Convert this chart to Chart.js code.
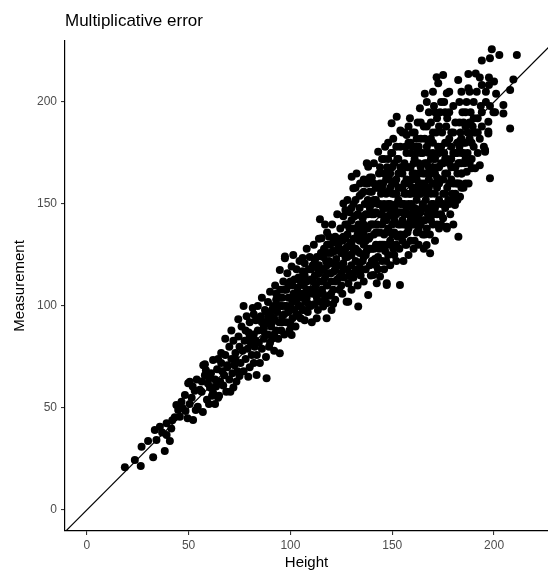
<!DOCTYPE html>
<html>
<head>
<meta charset="utf-8">
<script src="https://cdn.jsdelivr.net/npm/chart.js@4.4.1/dist/chart.umd.min.js"></script>
<style>
  html, body { margin: 0; padding: 0; background: #fff; }
  #wrap { width: 548px; height: 574px; }
</style>
</head>
<body>
<div id="wrap"><canvas id="chart" width="548" height="574"></canvas></div>
<script>
// Multiplicative error scatter: measurement vs true height, with the y = x line.
// Points are [height, measurement] pairs read off the reference picture.

const titleText = "Multiplicative error";
const xTitle = "Height";
const yTitle = "Measurement";

const xTickValues = [0, 50, 100, 150, 200];
const yTickValues = [0, 50, 100, 150, 200];
const xRange = [-10.7, 226.5];
const yRange = [-10.3, 229.9];

const tailPoints = [
  [18.7,20.9],[23.6,24.5],[26.5,21.6],[26.9,31],[30.1,33.8],[32.6,25.8],
  [33.4,39.2],[34.2,34.3],[35.9,40.8],[38.3,28.9],[39.2,42.5],[39.2,36.8],[40.8,33.8],
  [42,44],[43.2,45.5],[44,51.5],[44.9,49],[45.7,45.7],[41.5,40],[37,38],
  [48.2,56.4],[49.8,62.1],[50.6,62.9],[47,50],[49.5,45],[50.5,52],[52.2,44.1],[51.5,55],
  [53,58.5],[53.5,49],[54.5,50.6],[46.5,53],[48.5,48.5],[52,60.5],[54,64]
];

const lowerPoints = [
  [55.5,59],[56.4,58],[56.5,63],[57.2,71],[57,48],[58,66],[58,71.5],[59,54],[59.5,62],[60,52],
  [60.5,60],[61,67],[61.5,56],[62,73.5],[62,57.5],[63,64],[63.5,60.5],[64,69],[64.5,55],[64.5,74],
  [58.5,68.5],[60,64.5],[63,52],
  [65,56],[65.5,63],[66,72],[66,77],[67,61],[67.5,66],[68,76],[68.5,58],[69,70],[69,71],[70,64],
  [70,80],[70.5,58],[71,74],[71.5,67],[72,60],[72,83],[72.5,71],[73,77],[73.5,63],[74,68],
  [74.4,93.5],[74.5,85],[75,65.7],[75,80],[68,84],[66.5,68],[71,88],[73,74],
  [75.5,72],[76,90],[76.5,78],[77,68],[77.5,83],[78,74],[78.5,95],[79,79],[79.3,65.3],[79.5,87],
  [80,70],[80,92],[80.5,82],[81,76],[81.5,99],[82,86],[82,72],[82.5,80],[83,93],[83.4,66.2],
  [83.5,76],[84,88],[84,100],[84.5,82],[85,72],[77,100],[80,85],[82,96],[78,88],[83,83],
  [85.5,95],[86,79],[86,104],[86.5,88],[87,84],[87.5,98],[88,75],[88.3,64.6],[88.5,92],[89,102],
  [89,86],[89.5,80],[90,96],[90,107],[90.5,90],[91,84],[91.5,100],[92,78],[92,94],[92.5,110],
  [93,88],[93,103],[93.5,97],[94,84],[94.5,92],[94.8,76.8],[94.8,117.6],[95,100],[95,108],
  [86,92],[88,97],[91,92],[93,106],[90,82]
];

const middlePoints = [
  [95.5,88],[96,104],[96,95],[96.5,112],[97,86],[97.3,124.2],[97.3,123.4],[97.5,100],[98,92],[98,108],
  [98.5,116],[99,97],[99,104],[99.5,88],[100,112],[100,100],[100.6,119.3],[100.6,85.8],[101,94],[101.4,125],
  [101.5,106],[102,98],[102,113],[102.5,90],[103,103],[103,118],[103.5,109],[104,95],[104,100],[104.5,122],
  [105,94],[105,112],[106,123.5],[96,100],[97,108],[99,110],[101,102],[103,96],[100,91],[104,106],
  [105.5,104],[106,98],[106,117],[106.5,110],[107,93],[107,121],[107.5,102],[108,112],[108,128],[108.5,97],
  [109,107],[109,118],[109.5,124],[110,100],[110,113],[110.5,92],[111,106],[111,120],[111.5,130],[112,101],
  [112,115],[112.5,110],[112.9,94],[113,124],[113.5,98],[113.5,118],[114,106],[114,133],[114.5,142.5],[114.5,112],
  [115,102],[115,126],[106,106],[108,104],[110,108],[112,122],[114,120],[107,115],
  [115.3,133.2],[115.5,108],[116,118],[116.1,99.7],[116.5,128],[117,104],[117,114],[117.5,122],[117.8,94],[117.8,101.3],
  [118,110],[118,136],[118.5,126],[119,116],[119,105],[119.5,130],[120,112],[120,121],[120.2,98],[120.5,140],
  [121,108],[121,127],[121.5,117],[122,134],[122,103],[122.5,123],[123,113],[123,145],[123.5,130],[124,108],
  [124,120],[124.5,138],[125,116],[125,126],[116,124],[118,120],[120,116],[122,118],[124,128],[119,134],
  [121,101],[117,140]
];

const corePoints = [
  [125.5,132],[125.5,106],[126,121],[126,150.3],[126.5,114],[127,128],[127,140],[127.6,102.1],[128,118],[128,135],
  [128.4,102.1],[128.5,111],[129,125],[129,146],[129.5,131],[130,108],[130,120],[130.1,163.4],[130.5,138],[130.9,157.7],
  [131,114],[131,127],[131.5,144],[132,122],[132,152],[132.5,165],[132.5,133],[133,110],[133,118],[133.3,99.7],
  [133.5,140],[134,126],[134,148],[134.2,160],[134.5,115],[135,133],[135,155],[126,144],[128,152],[130,130],
  [132,128],[134,121],[126,126],[128,124],[130,142],[132,138],[134,138],[127,133],
  [135.5,122],[135.5,143],[136,112],[136,130],[136,162],[136.5,150],[137,118],[137,138],[137.5,127],[137.5,170],
  [138,145],[138.2,168.3],[138.2,105.4],[138.5,133],[139,120],[139,156],[139.5,140],[139.5,115],[140,128],[140,150],
  [140,163],[140.7,115.2],[141,135],[141,145],[141.5,123],[142,158],[142,130],[142.4,111.1],[142.5,140],[143,118],
  [143,150],[143.1,175.6],[143.5,128],[143.5,165],[144,114.4],[144,136],[144,145],[144.5,155],[145,122],[145,130],
  [145,172],[136,140],[138,152],[140,140],[142,146],[144,160],[137,132],[139,128],[141,152],[143,136],
  [145,140],[141,170],[139,163],
  [145.5,148],[145.5,160],[146,118],[146,135],[146.5,127],[146.5,178],[147,142],[147,155],[147.3,110.3],[147.3,111.1],
  [147.5,168],[148,125],[148,138],[148,150],[148.5,162],[149,120],[149,132],[149,145],[149.5,175],[149.7,189.6],
  [150,140],[150,155],[150,168],[150.5,128],[150.5,182],[151,148],[151,136],[151.5,160],[152,122],[152,145],
  [152.2,192.8],[152.5,172],[152.5,134],[153,152],[153,165],[153.5,128],[153.8,110.3],[154,140],[154,158],[154,178],
  [154.5,146],[155,132],[155,165],[155,185],[146,150],[148,144],[150,148],[152,155],[154,150],[147,162],
  [149,158],[151,170],[153,140],[155,150],[146,142],[150,135],[152,162],[148,172],
  [155.5,122],[155.5,140],[156,155],[156,170],[156.5,130],[156.5,178],[157,148],[157,162],[157.1,183.8],[157.5,136],
  [158,125],[158,145],[158,168],[158.5,155],[158.7,192],[159,132],[159,175],[159.5,150],[159.5,162],[160,140],
  [160,185],[160.5,128],[160.5,170],[161,155],[161,148],[161.5,178],[162,136],[162,162],[162.5,190],[162.5,145],
  [163,130],[163,170],[163.5,155],[163.6,196.9],[164,140],[164,182],[164.5,160],[164.5,148],[165,135],[165,175],
  [165,165],[156,160],[158,150],[160,158],[162,152],[164,168],[157,140],[159,168],[161,140],[163,160],
  [156,145],[158,180],[160,148],[162,175],[164,155],[157,155],[159,142],[161,165],[163,145],[165,150]
];

const upperPoints = [
  [165.5,128],[165.5,188],[166,204],[166,142],[166,160],[166.5,152],[166.9,129.9],[167,200],[167,170],[167.5,145],
  [168,180],[168,158],[168.6,125.8],[168.5,135],[169,165],[169,190],[169.5,150],[170,140],[170,175],[170,160],
  [170.5,198],[171,132],[171,155],[171.5,185],[171.8,212.1],[172,145],[172,168],[172.6,209.2],[172.5,178],[173,138],
  [173,160],[173.5,195],[174,150],[174,170],[174.5,185],[175,213.2],[175,143],[175,162],[166,170],[168,148],
  [170,150],[172,158],[174,162],[167,178],[169,142],[171,165],[173,175],[175,155],[166,182],[170,185],
  [172,192],[174,140],[168,168],[170,168],[172,150],
  [175.5,175],[175.5,200],[176,148],[176,165],[176.5,188],[176.8,138],[176.8,138.9],[176.8,204.3],[177,158],[177,180],
  [177.5,152],[178,170],[178,195],[178.5,145],[179,162],[179,185],[179.5,155],[180,175],[180,140],[180.5,168],
  [180.8,149.5],[181,190],[181.5,160],[182,180],[182,152],[182.4,210.8],[182.5,134],[182.5,170],[183,200],[183,160],
  [183.3,153.6],[183.5,185],[184,165],[184,175],[184.1,165],[184.5,195],[185,158],[176,172],[178,160],[180,160],
  [182,165],[184,182],[177,192],[179,172],[181,175],[183,170],[185,180],
  [185.5,170],[186,188],[186.6,165.8],[186.5,200],[187,175],[187.4,213.7],[187.4,206.7],[187.5,160],[188,182],[188.5,195],
  [189,167.5],[189,172],[189.5,188],[190,178],[190,200],[190.7,167.5],[191,214],[191,185],[191.5,205],[192,175],
  [192,192],[193,169],[193,212],[193,182],[193.5,198],[194,220.3],[194,208.3],[194,188],[195,178],[195.6,175.6],
  [195.6,176.5],[186,180],[188,190],[190,192],[192,185],[194,195],
  [196,200],[197.2,190.3],[197.2,185.5],[197.2,184.6],[197.5,212],[197.5,208.3],[198,221.4],[198,162.6],[198.9,225.8],[199.7,195],
  [200.5,195],[202.6,223],[204.6,198.5],[204.6,194.4],[207.9,205.9],[207.9,187],[209.5,211],[211.2,223],[196,205],[198,198],
  [200,210],[201,204]
];

// extra points where the cloud is solid black in the picture
const densePoints = [
  [87,90],[89,94],[91,98],[92,86],[94,100],[96,92],[98,100],[97,96],[95,104],[88,86],
  [101,110],[103,106],[105,100],[106,113],[108,108],[109,101],[110,118],[111,112],[113,104],[114,116],
  [102,104],[107,98],[112,108],[104,114],
  [116,112],[117,126],[118,116],[119,122],[120,106],[121,131],[122,112],[123,120],[124,133],[125,110],
  [116,106],[118,130],[120,126],[122,127],[124,114],
  [126,118],[127,147],[128,129],[129,138],[129,116],[130,125],[131,150],[131,133],[132,117],[133,145],
  [133,127],[134,132],[135,118],[135,144],[126,134],[128,140],[130,114],[132,158],[134,154],[127,124],
  [130,148],[133,135],
  [136,135],[136,156],[137,145],[137,125],[138,138],[138,160],[139,134],[139,148],[140,122],[140,156],
  [141,140],[141,128],[142,152],[142,136],[143,124],[143,158],[144,130],[144,150],[145,145],[145,158],
  [136,124],[138,128],[140,145],[142,120],[144,168],[137,160],[139,150],[141,160],
  [146,130],[146,165],[147,148],[147,136],[148,156],[148,130],[149,150],[149,165],[150,130],[150,160],
  [151,142],[151,155],[152,130],[152,150],[153,146],[153,158],[154,135],[154,168],[155,142],[155,158],
  [146,172],[148,180],[150,175],[152,178],[154,186],[147,122],[151,125],[153,172],
  [156,135],[156,150],[157,168],[157,130],[158,138],[158,160],[159,155],[159,180],[160,145],[160,165],
  [161,132],[161,172],[162,142],[162,158],[163,138],[163,165],[164,146],[164,175],[165,158],[165,142],
  [156,185],[158,188],[160,178],[162,182],[164,190],[157,175],[161,185],[163,178],
  [166,148],[166,165],[167,155],[167,138],[168,162],[168,175],[169,155],[169,172],[170,145],[170,180],
  [171,148],[171,172],[172,140],[172,163],[173,152],[173,168],[174,145],[174,178],[175,170],[175,150],
  [167,188],[169,182],[171,195],[173,188],[168,195],[170,205],[174,200],[166,135],
  [176,155],[176,180],[177,165],[177,172],[178,150],[178,182],[179,168],[179,178],[180,152],[180,185],
  [181,168],[181,155],[182,175],[182,160],[183,178],[183,190],[184,158],[184,170],[185,175],[185,190],
  [186,172],[187,185],[188,170],[189,180],[186,195],[188,205],[180,198],[178,205],[184,205],[176,195],
  [186,160],[190,185]
];

const allPoints = [].concat(tailPoints, lowerPoints, middlePoints, corePoints, upperPoints, densePoints)
  .map(([h, m]) => ({ x: h, y: m }));

// y = x reference line spanning the panel
const lineLo = Math.min(xRange[0], yRange[0]);
const lineHi = Math.max(xRange[1], yRange[1]);

const PLOT_LEFT = 65;
const PLOT_TOP = 41;
const PLOT_BOTTOM = 531;
const fontFamily = "'Liberation Sans', Arial, Helvetica, sans-serif";

const textPlugin = {
  id: "ggText",
  afterDraw(chart) {
    const ctx = chart.ctx;
    const area = chart.chartArea;
    ctx.save();
    ctx.fillStyle = "#000";
    ctx.font = "17px " + fontFamily;
    ctx.textAlign = "left";
    ctx.textBaseline = "alphabetic";
    ctx.fillText(titleText, PLOT_LEFT, 26);

    ctx.font = "15px " + fontFamily;
    ctx.textAlign = "center";
    ctx.fillText(xTitle, (area.left + area.right) / 2, 567);

    ctx.translate(20, (area.top + area.bottom) / 2);
    ctx.rotate(-Math.PI / 2);
    ctx.textBaseline = "middle";
    ctx.fillText(yTitle, 0, 0);
    ctx.restore();
  },
};

const tickFont = { family: fontFamily, size: 12 };

// drop the label padding Chart.js reserves so the panel matches the picture
function noPad(scale) {
  scale.paddingLeft = 0;
  scale.paddingRight = 0;
  scale.paddingTop = 0;
  scale.paddingBottom = 0;
}

new Chart(document.getElementById("chart"), {
  data: {
    datasets: [
      {
        type: "scatter",
        data: allPoints,
        backgroundColor: "#000",
        borderWidth: 0,
        pointRadius: 4,
        pointHoverRadius: 4,
        order: 1,
      },
      {
        type: "line",
        data: [{ x: lineLo, y: lineLo }, { x: lineHi, y: lineHi }],
        borderColor: "#000",
        borderWidth: 1.2,
        pointRadius: 0,
        fill: false,
        order: 2,
      },
    ],
  },
  options: {
    responsive: false,
    animation: false,
    layout: { autoPadding: false, padding: { top: PLOT_TOP, left: 0, right: 0, bottom: 0 } },
    plugins: {
      legend: { display: false },
      tooltip: { enabled: false },
      title: { display: false },
    },
    scales: {
      x: {
        type: "linear",
        min: xRange[0],
        max: xRange[1],
        afterBuildTicks: (scale) => { scale.ticks = xTickValues.map((v) => ({ value: v })); },
        afterFit: (scale) => { scale.height = 574 - PLOT_BOTTOM; noPad(scale); },
        ticks: { font: tickFont, color: "#4d4d4d", padding: 3, maxRotation: 0 },
        grid: { drawOnChartArea: false, tickLength: 4, color: "#333", lineWidth: 1.1 },
        border: { color: "#000", width: 1.2 },
      },
      y: {
        type: "linear",
        min: yRange[0],
        max: yRange[1],
        afterBuildTicks: (scale) => { scale.ticks = yTickValues.map((v) => ({ value: v })); },
        afterFit: (scale) => { scale.width = PLOT_LEFT; noPad(scale); },
        ticks: { font: tickFont, color: "#4d4d4d", padding: 4 },
        grid: { drawOnChartArea: false, tickLength: 4, color: "#333", lineWidth: 1.1 },
        border: { color: "#000", width: 1.2 },
      },
    },
  },
  plugins: [textPlugin],
});
</script>
</body>
</html>
